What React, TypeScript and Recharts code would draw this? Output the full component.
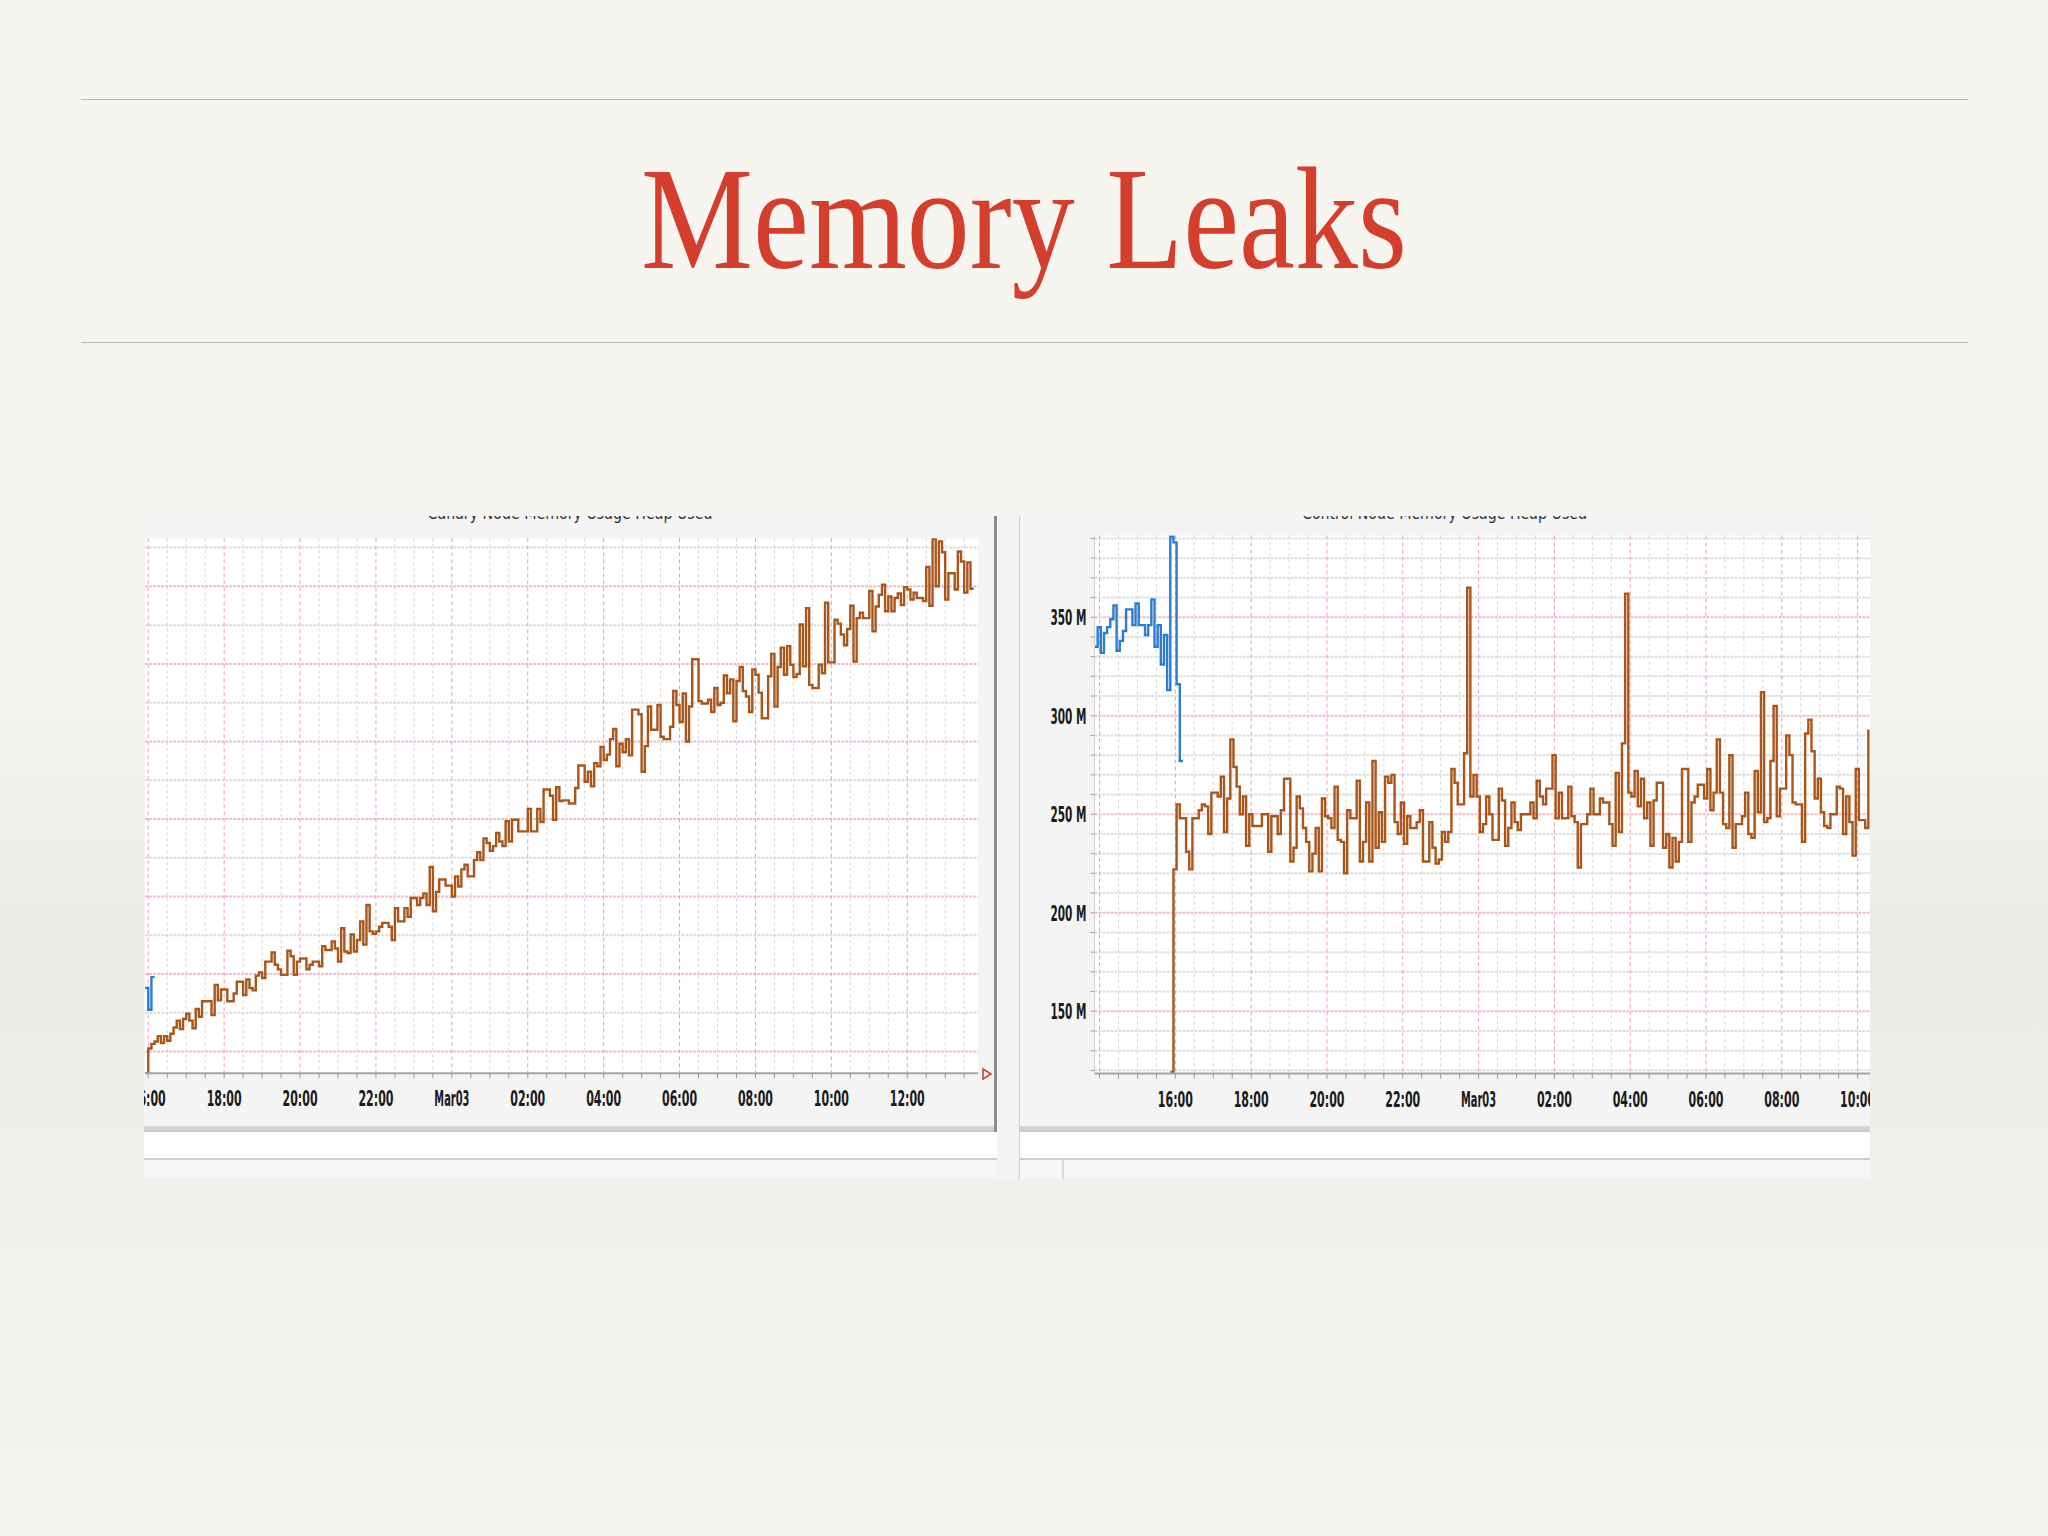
import React from 'react';
import { LineChart, Line, XAxis, YAxis, CartesianGrid } from 'recharts';

// minutes after 16:00, one sample every 5 minutes
const STEP = 5;

// left graph: canary node heap
const LEFT_START = -5;
const LEFT_BLUE = [182, 154, 196, 196];
const LEFT_BROWN = [
  72, 104, 110, 113, 120, 111, 120, 114, 123, 131,
  140, 129, 142, 149, 140, 130, 155, 145, 165, 165,
  165, 147, 186, 166, 180, 180, 165, 165, 175, 190,
  190, 173, 193, 182, 179, 198, 202, 195, 216, 216,
  228, 212, 206, 199, 199, 230, 223, 199, 216, 220,
  220, 206, 212, 216, 216, 210, 236, 231, 231, 242,
  233, 216, 259, 229, 227, 251, 229, 244, 268, 238,
  289, 255, 252, 255, 261, 266, 266, 261, 244, 285,
  268, 268, 285, 274, 298, 298, 289, 298, 304, 289,
  338, 281, 306, 322, 322, 314, 314, 300, 326, 313,
  335, 341, 326, 326, 347, 357, 347, 375, 369, 359,
  365, 382, 371, 365, 397, 371, 399, 399, 384, 384,
  384, 413, 384, 384, 413, 396, 438, 438, 430, 399,
  441, 423, 424, 424, 420, 420, 440, 469, 469, 448,
  461, 442, 472, 468, 493, 476, 483, 503, 516, 468,
  497, 486, 503, 482, 541, 541, 535, 461, 494, 545,
  515, 515, 547, 506, 503, 503, 519, 565, 547, 525,
  562, 500, 545, 606, 606, 552, 549, 549, 554, 538,
  569, 547, 550, 585, 562, 580, 526, 578, 596, 565,
  558, 538, 593, 586, 563, 530, 530, 584, 613, 545,
  596, 621, 586, 623, 599, 583, 587, 651, 597, 672,
  573, 569, 569, 599, 588, 679, 602, 602, 657, 652,
  638, 624, 645, 675, 603, 659, 666, 659, 659, 694,
  642, 674, 689, 702, 668, 687, 668, 685, 691, 676,
  699, 696, 683, 692, 685, 685, 681, 725, 675, 761,
  700, 758, 744, 683, 717, 717, 696, 745, 732, 692,
  731, 697, 697,
];
const LEFT_TICKS = [0, 120, 240, 360, 480, 600, 720, 840, 960, 1080, 1200];
const LEFT_TICK_LABELS = ['16:00', '18:00', '20:00', '22:00', 'Mar03', '02:00', '04:00', '06:00', '08:00', '10:00', '12:00'];
const LEFT_Y_MAJOR = [100, 200, 300, 400, 500, 600, 700];
const LEFT_Y_MINOR = [150, 250, 350, 450, 550, 650, 750];

// right graph: control node heap (MB)
const RIGHT_START = -128;
const RIGHT_BLUE = [
  335, 345, 332, 342, 345, 349, 356, 333, 338, 343,
  354, 354, 346, 357, 346, 346, 341, 346, 359, 335,
  346, 326, 341, 313, 391, 388, 316, 277, 277,
];
const RIGHT_BROWN_START = -8;
const RIGHT_BROWN = [
  119,
  222, 255, 248, 248, 231, 222, 248, 248, 252, 255,
  254, 240, 261, 261, 259, 269, 241, 258, 288, 274,
  264, 250, 259, 234, 250, 244, 244, 244, 250, 250,
  231, 249, 249, 240, 252, 268, 268, 226, 233, 259,
  253, 243, 236, 221, 230, 243, 221, 258, 249, 248,
  243, 264, 237, 236, 220, 252, 248, 248, 267, 226,
  236, 256, 226, 277, 233, 251, 236, 269, 266, 270,
  246, 240, 256, 235, 249, 243, 243, 246, 252, 226,
  226, 246, 233, 225, 227, 241, 236, 241, 273, 266,
  255, 255, 281, 365, 259, 270, 259, 241, 245,
  259, 250, 237, 237, 263, 257, 234, 243, 256, 246,
  242, 250, 250, 250, 256, 248, 267, 259, 255, 263,
  263, 280, 248, 261, 248, 248, 264, 249, 246, 223,
  245, 245, 250, 263, 250, 250, 258, 256, 256, 245,
  234, 271, 241, 286, 362, 261, 259, 272, 254, 268,
  248, 256, 234, 257, 266, 266, 233, 240, 223, 238,
  226, 236, 273, 273, 236, 256, 259, 265, 265, 258,
  273, 252, 261, 288, 261, 245, 243, 280, 233, 245,
  245, 249, 261, 240, 238, 272, 251, 312, 246, 248,
  277, 305, 249, 263, 263, 290, 280, 256, 255, 255,
  236, 291, 298, 282, 258, 268, 251, 244, 243, 250,
  250, 264, 263, 240, 259, 246, 229, 273, 247, 247,
  243, 293,
];
const RIGHT_TICKS = [0, 120, 240, 360, 480, 600, 720, 840, 960, 1080];
const RIGHT_TICK_LABELS = ['16:00', '18:00', '20:00', '22:00', 'Mar03', '02:00', '04:00', '06:00', '08:00', '10:00'];
const RIGHT_Y_LABELS = [150, 200, 250, 300, 350];

const BROWN = '#a9561a';
const BLUE = '#2a7dd2';
const AXIS_FONT = '"DejaVu Sans Condensed", "DejaVu Sans", sans-serif';

const range = (from: number, to: number, step: number) => {
  const out: number[] = [];
  for (let v = from; v <= to; v += step) out.push(v);
  return out;
};

type Series = { key: string; start: number; values: number[] };

function buildRows(start: number, count: number, series: Series[]) {
  return Array.from({ length: count }, (_, i) => {
    const t = start + i * STEP;
    const row: Record<string, number | null> = { t };
    series.forEach((s) => {
      const idx = (t - s.start) / STEP;
      row[s.key] = idx >= 0 && idx < s.values.length ? s.values[idx] : null;
    });
    return row;
  });
}

const leftRows = buildRows(LEFT_START, LEFT_BROWN.length, [
  { key: 'blue', start: LEFT_START, values: LEFT_BLUE },
  { key: 'brown', start: LEFT_START, values: LEFT_BROWN },
]);

const rightRows = buildRows(
  RIGHT_START,
  (RIGHT_BROWN_START - RIGHT_START) / STEP + RIGHT_BROWN.length,
  [
    { key: 'blue', start: RIGHT_START, values: RIGHT_BLUE },
    { key: 'brown', start: RIGHT_BROWN_START, values: RIGHT_BROWN },
  ]
);

const labelMap = (ticks: number[], labels: string[]) =>
  Object.fromEntries(ticks.map((t, i) => [t, labels[i]])) as Record<number, string>;

const timeTick = (labels: Record<number, string>) => (props: any) => {
  const { x, y, payload } = props;
  const label = labels[payload.value];
  if (!label) return <g />;
  return (
    <text
      x={x}
      y={y}
      dy={26}
      textAnchor="middle"
      fontFamily={AXIS_FONT}
      fontSize={22}
      fontWeight={700}
      fill="#1a1a1a"
      textLength={35}
      lengthAdjust="spacingAndGlyphs"
    >
      {label}
    </text>
  );
};

const mbTick = (props: any) => {
  const { x, y, payload } = props;
  if (!RIGHT_Y_LABELS.includes(payload.value)) return <g />;
  return (
    <text
      x={x}
      y={y}
      dy={8}
      textAnchor="end"
      fontFamily={AXIS_FONT}
      fontSize={22}
      fontWeight={700}
      fill="#1a1a1a"
      textLength={36}
      lengthAdjust="spacingAndGlyphs"
    >
      {`${payload.value} M`}
    </text>
  );
};

const GRID_GRAY_H = { stroke: '#dedede', strokeWidth: 2, strokeDasharray: '3 1' };
const GRID_PINK_H = { stroke: '#f4bcc4', strokeWidth: 2, strokeDasharray: '3 1' };
const GRID_GRAY_V = { stroke: '#d6d6d6', strokeWidth: 1, strokeDasharray: '3 3' };
const GRID_PINK_V = { stroke: '#eea0ab', strokeWidth: 1, strokeDasharray: '4 3' };

const abs = (left: number, top: number, width: number, height: number, extra: React.CSSProperties = {}) =>
  ({ position: 'absolute', left, top, width, height, ...extra }) as React.CSSProperties;

function PanelFrame({ left, width }: { left: number; width: number }) {
  return (
    <>
      <div style={abs(left, 516, width, 610, { background: '#f4f4f4' })} />
      <div style={abs(left, 1126, width, 6, { background: 'linear-gradient(#dadada, #c6c6c6)' })} />
      <div style={abs(left, 1132, width, 26, { background: '#fdfdfd' })} />
      <div style={abs(left, 1158, width, 2, { background: '#cdcdcd' })} />
      <div style={abs(left, 1160, width, 19, { background: '#f6f6f6' })} />
    </>
  );
}

function ChartTitle({ left, width, text }: { left: number; width: number; text: string }) {
  return (
    <div style={abs(left, 516, width, 12, { overflow: 'hidden' })}>
      <svg width={width} height={12} style={{ display: 'block' }}>
        <text x={width / 2} y={3} textAnchor="middle" fontFamily={AXIS_FONT} fontSize={17} fill="#333" textLength={285} lengthAdjust="spacingAndGlyphs">
          {text}
        </text>
      </svg>
    </div>
  );
}

export default function App() {
  const leftLabels = labelMap(LEFT_TICKS, LEFT_TICK_LABELS);
  const rightLabels = labelMap(RIGHT_TICKS, RIGHT_TICK_LABELS);
  const leftMinorT = range(30, 1290, 30).filter((t) => t % 120 !== 0);
  const rightMinorT = range(-90, 1095, 30).filter((t) => t % 120 !== 0);
  const rightMinorY = range(120, 390, 10).filter((v) => v % 50 !== 0);

  return (
    <div
      style={{
        position: 'absolute',
        left: 0,
        top: 0,
        width: 2048,
        height: 1536,
        overflow: 'hidden',
        background:
          'linear-gradient(180deg, #f7f5ef 0%, #f6f4ee 45%, #ebeae6 62%, #f1f0ea 78%, #f6f4ee 100%)',
      }}
    >
      <svg width={2048} height={400} style={{ position: 'absolute', left: 0, top: 0 }}>
        <line x1={81} x2={1968} y1={99.5} y2={99.5} stroke="#bcb9b1" strokeWidth={1.2} />
        <line x1={81} x2={1968} y1={342.5} y2={342.5} stroke="#bcb9b1" strokeWidth={1.2} />
        <text
          x={1024}
          y={268}
          textAnchor="middle"
          fontFamily='"Liberation Serif", "DejaVu Serif", serif'
          fontSize={146}
          fill="#d43f2d"
          textLength={766}
          lengthAdjust="spacingAndGlyphs"
        >
          Memory Leaks
        </text>
      </svg>

      {/* gap between the two screenshots */}
      <div style={abs(997, 516, 22, 663, { background: '#f3f3f3' })} />

      <PanelFrame left={144} width={853} />
      <PanelFrame left={1019} width={851} />
      <div style={abs(1062, 1160, 2, 19, { background: '#d8d8d8' })} />
      <div style={abs(1019, 516, 1, 663, { background: '#d0d0d0' })} />

      <div style={abs(144, 516, 852, 610, { overflow: 'hidden' })}>
        <LineChart width={855} height={610} data={leftRows} margin={{ top: 22.3, right: 20.9, bottom: 22.7, left: 1.1 }}>
          <CartesianGrid fill="#ffffff" horizontal={false} vertical={false} />
          <CartesianGrid vertical={false} horizontalValues={LEFT_Y_MINOR} {...GRID_GRAY_H} />
          <CartesianGrid horizontal={false} verticalValues={leftMinorT} {...GRID_GRAY_V} />
          <CartesianGrid vertical={false} horizontalValues={LEFT_Y_MAJOR} {...GRID_PINK_H} />
          <CartesianGrid horizontal={false} verticalValues={LEFT_TICKS} {...GRID_PINK_V} />
          <XAxis
            dataKey="t"
            type="number"
            domain={[-5, 1312]}
            allowDataOverflow
            ticks={range(0, 1290, 30)}
            interval={0}
            height={30}
            tickSize={5}
            tickMargin={2}
            axisLine={{ stroke: '#a4a4a4', strokeWidth: 2 }}
            tickLine={{ stroke: '#9a9a9a' }}
            tick={timeTick(leftLabels)}
          />
          <YAxis hide type="number" domain={[72, 762]} allowDataOverflow />
          <Line dataKey="blue" type="stepAfter" stroke={BLUE} strokeWidth={2.4} dot={false} isAnimationActive={false} connectNulls={false} />
          <Line dataKey="brown" type="stepAfter" stroke={BROWN} strokeWidth={2.4} dot={false} isAnimationActive={false} connectNulls={false} />
        </LineChart>
      </div>
      <ChartTitle left={144} width={852} text="Canary Node Memory Usage Heap Used" />
      <svg width={12} height={14} style={{ position: 'absolute', left: 981, top: 1067 }}>
        <polygon points="2,2 10,7 2,12" fill="none" stroke="#c44a3a" strokeWidth={1.6} />
      </svg>
      <div style={abs(994, 516, 3, 616, { background: '#8c8c8c' })} />

      <div style={abs(1019, 516, 851, 610, { overflow: 'hidden' })}>
        <LineChart width={873} height={610} data={rightRows} margin={{ top: 19.5, right: 20.5, bottom: 22.5, left: 15.5 }}>
          <CartesianGrid fill="#ffffff" horizontal={false} vertical={false} />
          <CartesianGrid vertical={false} horizontalValues={rightMinorY} {...GRID_GRAY_H} />
          <CartesianGrid horizontal={false} verticalValues={rightMinorT} {...GRID_GRAY_V} />
          <CartesianGrid vertical={false} horizontalValues={RIGHT_Y_LABELS} {...GRID_PINK_H} />
          <CartesianGrid horizontal={false} verticalValues={range(-120, 1080, 120)} {...GRID_PINK_V} />
          <XAxis
            dataKey="t"
            type="number"
            domain={[-128, 1102]}
            allowDataOverflow
            ticks={range(-120, 1095, 30)}
            interval={0}
            height={30}
            tickSize={5}
            tickMargin={2}
            axisLine={{ stroke: '#a4a4a4', strokeWidth: 2 }}
            tickLine={{ stroke: '#9a9a9a' }}
            tick={timeTick(rightLabels)}
          />
          <YAxis
            type="number"
            domain={[118.4, 391.5]}
            allowDataOverflow
            ticks={range(120, 390, 10)}
            interval={0}
            width={60}
            tickSize={4}
            tickMargin={4}
            axisLine={{ stroke: '#cfcfcf' }}
            tickLine={{ stroke: '#a0a0a0' }}
            tick={mbTick}
          />
          <Line dataKey="blue" type="stepAfter" stroke={BLUE} strokeWidth={2.4} dot={false} isAnimationActive={false} connectNulls={false} />
          <Line dataKey="brown" type="stepAfter" stroke={BROWN} strokeWidth={2.4} dot={false} isAnimationActive={false} connectNulls={false} />
        </LineChart>
      </div>
      <ChartTitle left={1019} width={851} text="Control Node Memory Usage Heap Used" />
    </div>
  );
}
